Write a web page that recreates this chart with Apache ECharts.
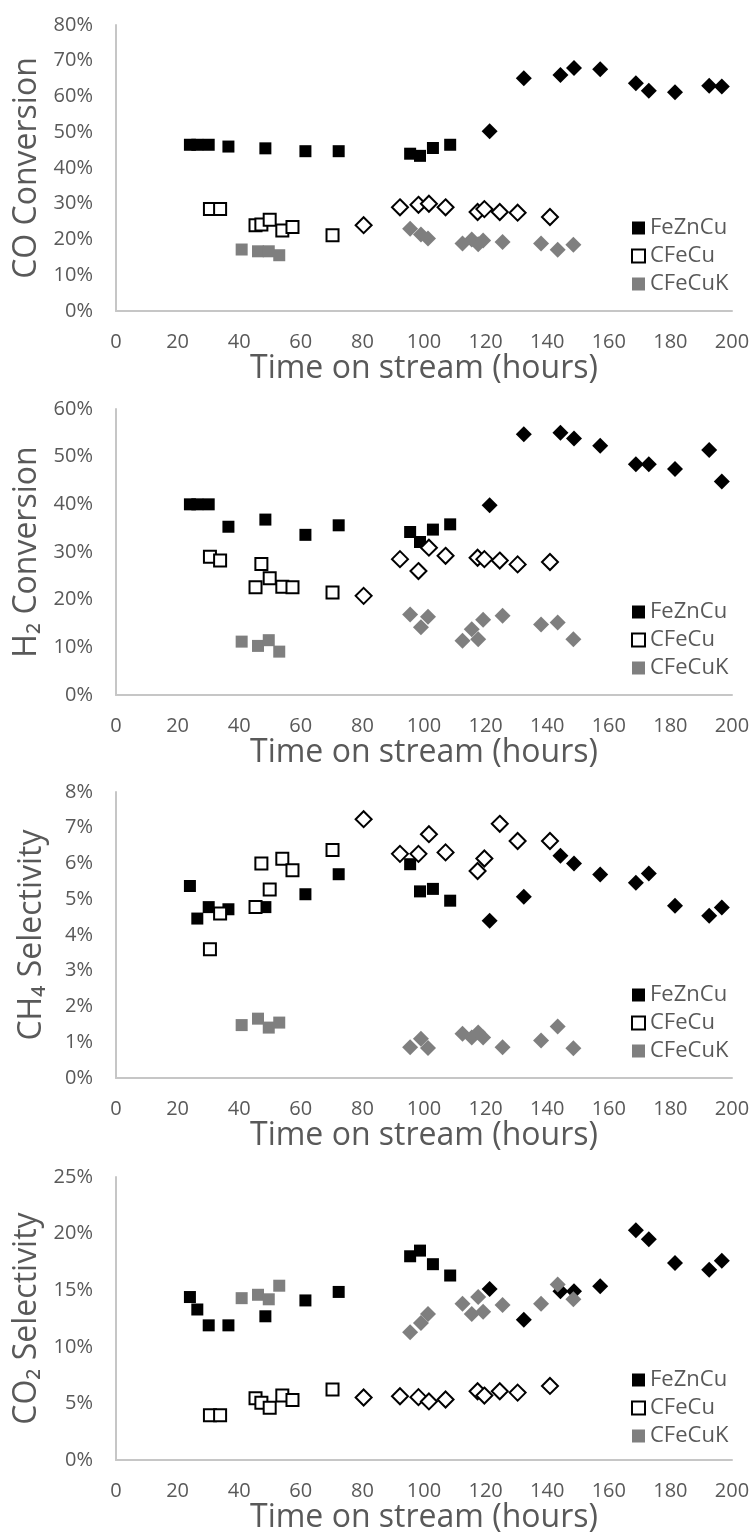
<!DOCTYPE html>
<html lang="en" style="height: 100%">
  <head>
    <meta charset="utf-8" />
  </head>
  <body style="height: 100%; margin: 0; background: #fff">
    <div id="container" style="width: 754px; height: 1535px"></div>

    <script src="https://fastly.jsdelivr.net/npm/echarts@6/dist/echarts.min.js"></script>

    <script type="text/javascript">
      // time on stream (hours) - same sampling times in every panel
      var tFeSq = [24, 26.4, 30.1, 36.5, 48.5, 61.5, 72.3, 95.5, 98.7, 102.9, 108.5];
      var tFeDi = [121.3, 132.4, 144.3, 148.7, 157.2, 168.8, 173, 181.5, 192.6, 196.7];
      var tCuSq = [30.5, 33.8, 45.3, 47.2, 49.9, 54, 57.3, 70.3];
      var tCuDi = [80.4, 92.2, 98.2, 101.6, 107, 117.4, 119.6, 124.6, 130.4, 140.9];
      var tKSq = [40.8, 46.1, 49.6, 53];
      var tKDi = [95.5, 99, 101.3, 112.5, 115.5, 117.6, 119.2, 125.5, 138, 143.4, 148.5];

      // CO conversion (%)
      var coFeSq = [46.5, 46.5, 46.5, 46, 45.5, 44.7, 44.7, 44, 43.4, 45.6, 46.5];
      var coFeDi = [50.3, 65.1, 66, 68, 67.6, 63.7, 61.6, 61.2, 63, 62.8];
      var coCuSq = [28.5, 28.5, 24, 24.2, 25.5, 22.5, 23.5, 21.2];
      var coCuDi = [24, 29, 29.7, 30, 29, 27.7, 28.5, 27.7, 27.5, 26.3];
      var coKSq = [17.2, 16.7, 16.7, 15.6];
      var coKDi = [23, 21.4, 20.3, 18.9, 20, 18.7, 19.7, 19.3, 18.9, 17.1, 18.5];

      // H2 conversion (%)
      var h2FeSq = [40, 40, 40, 35.3, 36.8, 33.6, 35.6, 34.2, 32.1, 34.7, 35.8];
      var h2FeDi = [39.8, 54.7, 55, 53.8, 52.3, 48.4, 48.4, 47.4, 51.4, 44.8];
      var h2CuSq = [29, 28.2, 22.6, 27.5, 24.5, 22.7, 22.6, 21.5];
      var h2CuDi = [20.8, 28.5, 26, 30.9, 29.2, 28.8, 28.5, 28.2, 27.4, 27.9];
      var h2KSq = [11.2, 10.3, 11.5, 9.1];
      var h2KDi = [16.9, 14.2, 16.4, 11.4, 13.8, 11.7, 15.8, 16.6, 14.8, 15.2, 11.7];

      // CH4 selectivity (%)
      var chFeSq = [5.37, 4.46, 4.78, 4.72, 4.78, 5.14, 5.7, 5.98, 5.22, 5.29, 4.96];
      var chFeDi = [4.4, 5.07, 6.22, 6.0, 5.69, 5.46, 5.72, 4.82, 4.54, 4.77];
      var chCuSq = [3.6, 4.6, 4.78, 6.0, 5.27, 6.13, 5.81, 6.38];
      var chCuDi = [7.24, 6.27, 6.27, 6.82, 6.31, 5.79, 6.14, 7.11, 6.63, 6.63];
      var chKSq = [1.48, 1.66, 1.41, 1.55];
      var chKDi = [0.86, 1.1, 0.84, 1.24, 1.13, 1.27, 1.13, 0.86, 1.05, 1.44, 0.83];

      // CO2 selectivity (%)
      var c2FeSq = [14.4, 13.3, 11.9, 11.9, 12.7, 14.1, 14.85, 18, 18.5, 17.3, 16.3];
      var c2FeDi = [15.1, 12.4, 14.9, 14.9, 15.35, 20.3, 19.5, 17.4, 16.8, 17.6];
      var c2CuSq = [3.95, 3.95, 5.47, 5.06, 4.62, 5.7, 5.3, 6.23];
      var c2CuDi = [5.53, 5.64, 5.56, 5.18, 5.35, 6.08, 5.7, 6.08, 5.96, 6.55];
      var c2KSq = [14.3, 14.6, 14.2, 15.4];
      var c2KDi = [11.3, 12.1, 12.9, 13.8, 12.9, 14.4, 13.1, 13.7, 13.8, 15.5, 14.2];

      var seriesNames = ["FeZnCu", "CFeCu", "CFeCuK"];
      var yNames = ["CO Conversion", "H\u2082 Conversion", "CH\u2084 Selectivity", "CO\u2082 Selectivity"];
      var yMax = [80, 60, 8, 25];
      var yStep = [10, 10, 1, 5];

      var panels = [
        [[coFeSq, coFeDi], [coCuSq, coCuDi], [coKSq, coKDi]],
        [[h2FeSq, h2FeDi], [h2CuSq, h2CuDi], [h2KSq, h2KDi]],
        [[chFeSq, chFeDi], [chCuSq, chCuDi], [chKSq, chKDi]],
        [[c2FeSq, c2FeDi], [c2CuSq, c2CuDi], [c2KSq, c2KDi]],
      ];
      var times = [[tFeSq, tFeDi], [tCuSq, tCuDi], [tKSq, tKDi]];

      var textGray = "#595959";
      var font = '"Open Sans", sans-serif';
      var styles = [
        { color: "#000", borderColor: "#000", borderWidth: 0, opacity: 1 },
        { color: "#fff", borderColor: "#000", borderWidth: 2, opacity: 1 },
        { color: "#7f7f7f", borderColor: "#7f7f7f", borderWidth: 0, opacity: 1 },
      ];

      var gridTop = [25, 409, 792, 1177];
      var plotH = 286;

      function points(t, v) {
        var out = [];
        for (var i = 0; i < t[0].length; i++) {
          out.push({ value: [t[0][i], v[0][i]], symbol: "rect", symbolSize: 12 });
        }
        for (var j = 0; j < t[1].length; j++) {
          out.push({ value: [t[1][j], v[1][j]], symbol: "diamond", symbolSize: 16 });
        }
        return out;
      }

      var grid = [], xAxis = [], yAxis = [], series = [], legend = [];
      panels.forEach(function (panel, p) {
        grid.push({ left: 116, right: 22, top: gridTop[p], height: plotH });
        xAxis.push({
          gridIndex: p,
          type: "value",
          min: 0,
          max: 200,
          interval: 20,
          name: "Time on stream (hours)",
          nameLocation: "middle",
          nameGap: 38,
          nameTextStyle: { color: textGray, fontSize: 32, fontFamily: font },
          axisLine: { show: true, lineStyle: { color: "#c6c6c6", width: 2 } },
          axisTick: { show: false },
          splitLine: { show: false },
          axisLabel: { color: textGray, fontSize: 20, fontFamily: font, margin: 21 },
        });
        yAxis.push({
          gridIndex: p,
          type: "value",
          min: 0,
          max: yMax[p],
          interval: yStep[p],
          name: yNames[p],
          nameLocation: "middle",
          nameGap: 68,
          nameTextStyle: { color: textGray, fontSize: 32, fontFamily: font },
          axisLine: { show: true, lineStyle: { color: "#c6c6c6", width: 2 } },
          axisTick: { show: false },
          splitLine: { show: false },
          axisLabel: { color: textGray, fontSize: 20, fontFamily: font, margin: 23, formatter: "{value}%" },
        });
        panel.forEach(function (vals, s) {
          series.push({
            name: seriesNames[s],
            type: "scatter",
            xAxisIndex: p,
            yAxisIndex: p,
            symbol: "rect",
            itemStyle: styles[s],
            data: points(times[s], vals),
          });
        });
        legend.push({
          data: seriesNames,
          orient: "vertical",
          left: 626,
          top: gridTop[p] + 186,
          itemWidth: 13,
          itemHeight: 13,
          itemGap: 4,
          selectedMode: false,
          textStyle: { color: textGray, fontSize: 22, fontFamily: font, lineHeight: 24 },
        });
      });

      var myChart = echarts.init(document.getElementById("container"), null, { renderer: "canvas" });
      myChart.setOption({
        animation: false,
        backgroundColor: "#fff",
        grid: grid,
        xAxis: xAxis,
        yAxis: yAxis,
        legend: legend,
        series: series,
      });
    </script>
  </body>
</html>
